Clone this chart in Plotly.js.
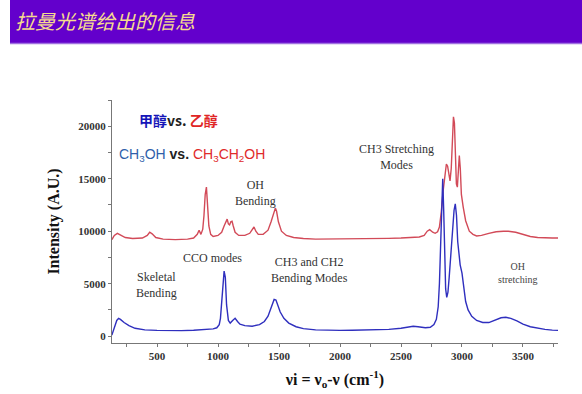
<!DOCTYPE html>
<html><head><meta charset="utf-8">
<script src="https://cdn.plot.ly/plotly-3.0.1.min.js"></script>
<style>html,body{margin:0;padding:0;background:#fff}#chart{width:582px;height:394px}</style>
</head><body><div id="chart"></div>
<script>
// Methanol (CH3OH) spectrum
const methanolX = [130,150,170,185,200,230,270,320,400,500,600,700,800,900,960,990,1010,1020,1030,1040,1050,1060,1070,1085,1100,1120,1140,1160,1180,1220,1280,1340,1380,1410,1430,1445,1460,1475,1490,1510,1540,1580,1640,1700,1800,1900,2000,2100,2200,2300,2400,2500,2560,2600,2640,2700,2740,2770,2790,2805,2815,2825,2835,2842,2850,2858,2866,2875,2885,2895,2905,2915,2925,2935,2945,2955,2965,2975,2985,3000,3015,3030,3050,3080,3120,3170,3220,3270,3320,3360,3400,3450,3500,3560,3620,3680,3740,3790];
const methanolY = [100,900,1500,1700,1600,1300,1000,750,600,550,520,530,560,620,700,800,1100,1700,3200,5200,6200,5600,3000,1500,1250,1500,1700,1400,1150,1000,950,1100,1400,1900,2600,3200,3500,3450,3000,2300,1700,1250,900,720,600,560,550,560,580,600,650,750,850,950,900,800,850,1100,1600,2800,5000,9000,13500,15000,12000,7000,4500,3700,4200,5600,7200,8800,10500,12000,12600,11500,9000,7500,6800,6000,4500,3300,2500,1900,1500,1300,1300,1500,1750,1800,1700,1450,1150,900,750,650,580,550];
// Ethanol (CH3CH2OH) spectrum
const ethanolX = [130,150,175,200,240,300,380,420,440,460,490,550,650,750,800,830,845,860,875,885,895,905,915,925,940,960,1000,1030,1050,1065,1075,1085,1095,1105,1115,1125,1140,1170,1220,1260,1280,1295,1310,1330,1370,1410,1435,1455,1470,1480,1495,1520,1560,1620,1700,1800,1900,2000,2100,2200,2300,2400,2500,2600,2650,2690,2715,2735,2760,2780,2800,2815,2830,2845,2860,2872,2882,2892,2902,2912,2922,2930,2938,2946,2954,2962,2970,2978,2986,2995,3010,3030,3060,3090,3120,3160,3220,3280,3340,3380,3440,3500,3560,3620,3680,3740,3790];
const ethanolY = [9200,9600,9800,9650,9400,9300,9350,9600,9900,9750,9400,9250,9200,9250,9350,9700,10100,9700,10200,11500,13500,14200,12500,10500,9700,9500,9600,9900,10500,11000,11150,10700,10600,10900,10950,10500,9900,9600,9600,9800,10200,10400,10000,9700,9700,10100,10900,11800,12200,11900,10900,10000,9600,9400,9300,9250,9250,9250,9250,9280,9300,9320,9350,9400,9450,9600,10000,10150,9900,9800,9950,10400,11800,13800,15600,16400,16200,15200,14800,16000,18800,20900,20300,17500,14500,14200,16400,17200,16000,13500,12300,11000,10000,9700,9550,9600,9800,9950,10000,10000,9900,9700,9500,9400,9350,9350,9350];

const xTickVals = [500,1000,1500,2000,2500,3000,3500];
const yTickVals = [0,5000,10000,15000,20000];

const serif = "Liberation Serif, Times New Roman, serif";
const annots = [
  {x:336,y:20570,xanchor:'left',text:'<b><span style="color:#1515b8">甲醇</span><span style="color:#222">vs.</span> <span style="color:#e02525">乙醇</span></b>',font:{family:"Noto Sans CJK SC",size:14}},
  {x:172,y:17240,xanchor:'left',text:'<span style="color:#2f5faa">CH<sub>3</sub>OH</span> <b><span style="color:#222">vs.</span></b> <span style="color:#e02a2a">CH<sub>3</sub>CH<sub>2</sub>OH</span>',font:{family:"Liberation Sans, Arial",size:14}},
  {x:1311,y:13620,text:'OH<br>Bending',font:{family:serif,size:12,color:'#333'}},
  {x:951,y:7430,text:'CCO modes',font:{family:serif,size:12,color:'#333'}},
  {x:311,y:4860,xanchor:'left',text:'Skeletal<br>Bending',font:{family:serif,size:12,color:'#333'}},
  {x:1754,y:6290,text:'CH3 and CH2<br>Bending Modes',font:{family:serif,size:12,color:'#333'}},
  {x:2467,y:17050,text:'CH3 Stretching<br>Modes',font:{family:serif,size:12,color:'#333'}},
  {x:3459,y:6000,text:'OH<br>stretching',font:{family:serif,size:10,color:'#444'}}
].map(a=>Object.assign({xref:'x',yref:'y',showarrow:false},a));

const traces = [
  {x:ethanolX,y:ethanolY,mode:'lines',line:{color:'#d24a58',width:1.4},name:'CH3CH2OH',hoverinfo:'skip'},
  {x:methanolX,y:methanolY,mode:'lines',line:{color:'#2f2fbe',width:1.4},name:'CH3OH',hoverinfo:'skip'}
];

const layout = {
  width:582,height:394,
  margin:{l:112,r:24,t:100,b:51},
  paper_bgcolor:'#ffffff',plot_bgcolor:'#ffffff',
  showlegend:false,
  title:{text:'拉曼光谱给出的信息',x:15/582,xanchor:'left',xref:'container',y:1-22/394,yanchor:'middle',yref:'container',
         font:{family:"Noto Sans CJK SC",size:20,color:'#f6dc8e',style:'italic'}},
  shapes:[
    {type:'rect',xref:'paper',yref:'paper',x0:(10-112)/446,x1:(582-112)/446,y0:(343-43)/243,y1:343/243,fillcolor:'#6300cc',line:{width:0},layer:'below'},
    {type:'line',xref:'paper',yref:'paper',x0:(10-112)/446,x1:(582-112)/446,y0:(343-43.5)/243,y1:(343-43.5)/243,line:{color:'#a070e0',width:1.5}}
  ],
  xaxis:{range:[131,3787],tickvals:xTickVals,ticktext:xTickVals.map(String),ticks:'outside',ticklen:3,tickcolor:'#777',
         minor:{dtick:250,tick0:0,ticks:'outside',ticklen:3,tickcolor:'#777'},
         showline:true,linecolor:'#777',linewidth:1,showgrid:false,zeroline:false,
         tickfont:{family:serif,size:11,color:'#333',weight:'bold'},
         title:{text:'<b>νi = ν<sub>o</sub>-ν (cm<sup>-1</sup>)</b>',font:{family:serif,size:16,color:'#111'},standoff:12}},
  yaxis:{range:[-650,22500],tickvals:yTickVals,ticktext:yTickVals.map(String),ticks:'outside',ticklen:3,tickcolor:'#777',
         minor:{dtick:2500,tick0:0,ticks:'outside',ticklen:3,tickcolor:'#777'},
         showline:true,linecolor:'#777',linewidth:1,showgrid:false,zeroline:false,
         tickfont:{family:serif,size:11,color:'#333',weight:'bold'},
         title:{text:'<b>Intensity (A.U.)</b>',font:{family:serif,size:16,color:'#111'},standoff:14}},
  annotations:annots
};
Plotly.newPlot('chart',traces,layout,{displayModeBar:false,staticPlot:true});
</script></body></html>
